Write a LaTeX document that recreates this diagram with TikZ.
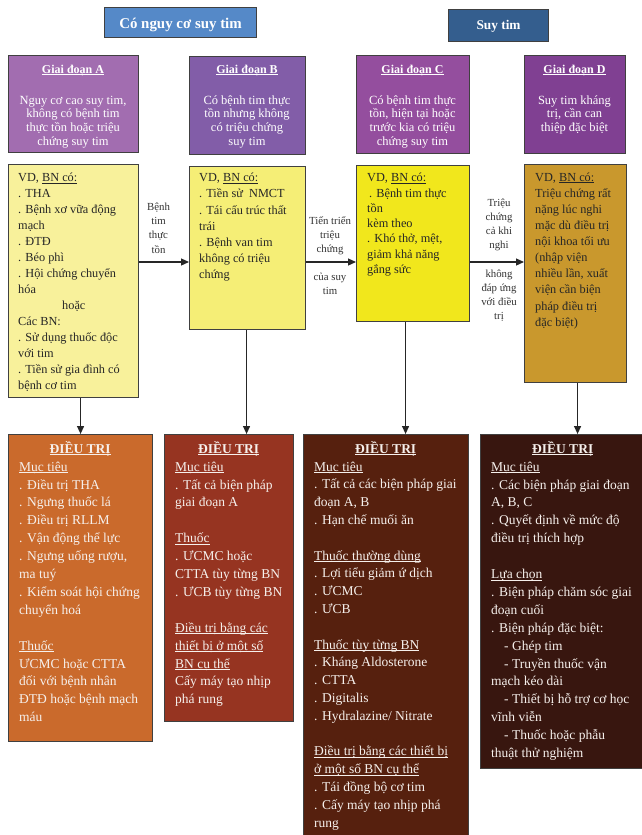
\documentclass[tikz,border=0pt]{standalone}
\usepackage{fontspec}
\setmainfont{Liberation Serif}
\usetikzlibrary{arrows.meta}
\definecolor{topA}{HTML}{5589C8}
\definecolor{topB}{HTML}{345E8E}
\definecolor{stA}{HTML}{A26DB0}
\definecolor{stB}{HTML}{825DA8}
\definecolor{stC}{HTML}{944E9E}
\definecolor{stD}{HTML}{804092}
\definecolor{vdA}{HTML}{F8F19B}
\definecolor{vdB}{HTML}{F5EE76}
\definecolor{vdC}{HTML}{F1E71C}
\definecolor{vdD}{HTML}{C9982D}
\definecolor{trA}{HTML}{CA6A2C}
\definecolor{trB}{HTML}{963421}
\definecolor{trC}{HTML}{56200E}
\definecolor{trD}{HTML}{38160F}
\definecolor{wtxt}{HTML}{F6F0EC}
\newcommand\ulx[1]{\setbox0=\hbox{#1}\rlap{\rule[-1.7pt]{\wd0}{0.65pt}}\box0}
\newcommand\fs{\vrule height 14pt depth 0pt width 0pt}
\begin{document}
\begin{tikzpicture}[x=1pt,y=-1pt,
  box/.style={draw=black!75, line width=1.1pt, inner sep=0pt, anchor=north west},
  arr/.style={line width=1.2pt, draw=black!85, -{Triangle[length=8pt,width=7pt]}},
  vdtxt/.style={anchor=north west, inner sep=0pt, align=left, text=black!85, font=\fontsize{12.3}{16}\selectfont},
  trtxt/.style={anchor=north west, inner sep=0pt, align=left, text=wtxt, font=\fontsize{13.5}{17.9}\selectfont},
  sttitle/.style={anchor=base, inner sep=0pt, text=white, font=\bfseries\fontsize{12}{14}\selectfont},
  stbody/.style={anchor=north, inner sep=0pt, align=center, text=white, font=\fontsize{12.5}{13.6}\selectfont},
  lbl/.style={anchor=north, inner sep=0pt, align=center, text=black!80, font=\fontsize{10.8}{14.3}\selectfont}
]
\useasboundingbox (0,0) rectangle (641,835);
\fill[white] (0,0) rectangle (641,835);

% top headers
\node[box, fill=topA, minimum width=152pt, minimum height=30pt, text height=14pt, text depth=3pt, text=white, font=\bfseries\fontsize{14.9}{16}\selectfont] (risk) at (104,7) {Có nguy cơ suy tim};
\node[box, fill=topB, minimum width=100pt, minimum height=32pt, text height=10pt, text depth=3pt, text=white, font=\bfseries\fontsize{13.3}{15}\selectfont] (hf) at (448,9) {Suy tim};

% stage boxes
\node[box, fill=stA, minimum width=130pt, minimum height=97pt] (stageA) at (8,55) {};
\node[box, fill=stB, minimum width=116pt, minimum height=98pt] (stageB) at (189,56) {};
\node[box, fill=stC, minimum width=113pt, minimum height=98pt] (stageC) at (356,55) {};
\node[box, fill=stD, minimum width=101pt, minimum height=98pt] (stageD) at (524,55) {};
\node[sttitle] (tA) at (73,73) {\ulx{Giai đoạn A}};
\node[sttitle] (tB) at (247,73) {\ulx{Giai đoạn B}};
\node[sttitle] (tC) at (412.5,73) {\ulx{Giai đoạn C}};
\node[sttitle] (tD) at (574.5,73) {\ulx{Giai đoạn D}};
\node[stbody] (bA) at (73,90) {\fs Nguy cơ cao suy tim,\\không có bệnh tim\\thực tồn hoặc triệu\\chứng suy tim};
\node[stbody] (bB) at (247,90) {\fs Có bệnh tim thực\\tồn nhưng không\\có triệu chứng\\suy tim};
\node[stbody] (bC) at (412.5,90) {\fs Có bệnh tim thực\\tồn, hiện tại hoặc\\trước kia có triệu\\chứng suy tim};
\node[stbody] (bD) at (574.5,90) {\fs Suy tim kháng\\trị, cần can\\thiệp đặc biệt};

% VD boxes
\node[box, fill=vdA, minimum width=130pt, minimum height=233pt] (vdA) at (8,164) {};
\node[box, fill=vdB, minimum width=116pt, minimum height=163pt] (vdB) at (189,166) {};
\node[box, fill=vdC, minimum width=113pt, minimum height=156pt] (vdC) at (356,165) {};
\node[box, fill=vdD, minimum width=102pt, minimum height=218pt] (vdD) at (524,164) {};
\node[vdtxt] (vtA) at (18,167.5) {\fs VD, \ulx{BN có:}\\
. THA\\
. Bệnh xơ vữa động\\
mạch\\
. ĐTĐ\\
. Béo phì\\
. Hội chứng chuyển\\
hóa\\
\hspace*{44pt}hoặc\\
Các BN:\\
. Sử dụng thuốc độc\\
với tim\\
. Tiền sử gia đình có\\
bệnh cơ tim};
\node[vdtxt, font=\fontsize{12.3}{16.2}\selectfont] (vtB) at (199,167.5) {\fs VD, \ulx{BN có:}\\
. Tiền sử~ NMCT\\
. Tái cấu trúc thất\\
trái\\
. Bệnh van tim\\
không có triệu\\
chứng};
\node[vdtxt, font=\fontsize{12.3}{15.3}\selectfont] (vtC) at (367,167.5) {\fs VD, \ulx{BN có:}\\
\hspace*{2pt}. Bệnh tim thực\\
tồn\\
kèm theo\\
. Khó thở, mệt,\\
giảm khả năng\\
gắng sức};
\node[vdtxt, font=\fontsize{12.3}{16.1}\selectfont] (vtD) at (535,167) {\fs VD, \ulx{BN có:}\\
Triệu chứng rất\\
nặng lúc nghi\\
mặc dù điều trị\\
nội khoa tối ưu\\
(nhập viện\\
nhiều lần, xuất\\
viện cần biện\\
pháp điều trị\\
đặc biệt)};

% treatment boxes
\node[box, fill=trA, minimum width=144pt, minimum height=307pt] (trA) at (8,434) {};
\node[box, fill=trB, minimum width=129pt, minimum height=287pt] (trB) at (164,434) {};
\node[box, fill=trC, minimum width=165pt, minimum height=404pt] (trC) at (303,434) {};
\node[box, fill=trD, minimum width=163pt, minimum height=334pt] (trD) at (480,434) {};

\node[trtxt] (ttA) at (19,439) {\fs\makebox[122pt][c]{\bfseries\ulx{ĐIỀU TRỊ}}\\
\ulx{Mục tiêu}\\
. Điều trị THA\\
. Ngưng thuốc lá\\
. Điều trị RLLM\\
. Vận động thể lực\\
. Ngưng uống rượu,\\
ma tuý\\
. Kiểm soát hội chứng\\
chuyển hoá\\
~\\
\ulx{Thuốc}\\
ƯCMC hoặc CTTA\\
đối với bệnh nhân\\
ĐTĐ hoặc bệnh mạch\\
máu};
\node[trtxt] (ttB) at (175,439) {\fs\makebox[107pt][c]{\bfseries\ulx{ĐIỀU TRỊ}}\\
\ulx{Mục tiêu}\\
. Tất cả biện pháp\\
giai đoạn A\\
~\\
\ulx{Thuốc}\\
. ƯCMC hoặc\\
CTTA tùy từng BN\\
. ƯCB tùy từng BN\\
~\\
\ulx{Điều trị bằng các}\\
\ulx{thiết bị ở một số}\\
\ulx{BN cụ thể}\\
Cấy máy tạo nhịp\\
phá rung};
\node[trtxt, font=\fontsize{13.5}{17.8}\selectfont] (ttC) at (314,439) {\fs\makebox[143pt][c]{\bfseries\ulx{ĐIỀU TRỊ}}\\
\ulx{Mục tiêu}\\
. Tất cả các biện pháp giai\\
đoạn A, B\\
. Hạn chế muối ăn\\
~\\
\ulx{Thuốc thường dùng}\\
. Lợi tiểu giảm ứ dịch\\
. ƯCMC\\
. ƯCB\\
~\\
\ulx{Thuốc tùy từng BN}\\
. Kháng Aldosterone\\
. CTTA\\
. Digitalis\\
. Hydralazine/ Nitrate\\
~\\
\ulx{Điều trị bằng các thiết bị}\\
\ulx{ở một số BN cụ thể}\\
. Tái đồng bộ cơ tim\\
. Cấy máy tạo nhịp phá\\
rung};
\node[trtxt] (ttD) at (491,439) {\fs\makebox[143pt][c]{\bfseries\ulx{ĐIỀU TRỊ}}\\
\ulx{Mục tiêu}\\
. Các biện pháp giai đoạn\\
A, B, C\\
. Quyết định về mức độ\\
điều trị thích hợp\\
~\\
\ulx{Lựa chọn}\\
. Biện pháp chăm sóc giai\\
đoạn cuối\\
. Biện pháp đặc biệt:\\
\hspace*{13pt}- Ghép tim\\
\hspace*{13pt}- Truyền thuốc vận\\
mạch kéo dài\\
\hspace*{13pt}- Thiết bị hỗ trợ cơ học\\
vĩnh viễn\\
\hspace*{13pt}- Thuốc hoặc phẫu\\
thuật thử nghiệm};

% connector labels
\node[lbl] (l1) at (158.5,196) {\fs Bệnh\\tim\\thực\\tồn};
\node[lbl, font=\fontsize{10.8}{14.2}\selectfont] (l2) at (330,210) {\fs Tiến triển\\triệu\\chứng};
\node[lbl, font=\fontsize{10.8}{14}\selectfont] (l3) at (330,266.5) {\fs của suy\\tim};
\node[lbl, font=\fontsize{10.8}{14.2}\selectfont] (l4) at (499,192) {\fs Triệu\\chứng\\cả khi\\nghi};
\node[lbl, font=\fontsize{10.8}{14.2}\selectfont] (l5) at (499,263) {\fs không\\đáp ứng\\với điều\\trị};

% connectors
\coordinate (hy) at (0,262);
\draw[arr] (vdA.east |- hy) -- (vdB.west |- hy);
\draw[arr] (vdB.east |- hy) -- (vdC.west |- hy);
\draw[arr] (vdC.east |- hy) -- (vdD.west |- hy);
\draw[arr] (vdA.south -| trA.north) -- (trA.north);
\draw[arr] ([xshift=-1pt]vdB.south) -- ([xshift=-1pt]vdB.south |- trB.north);
\draw[arr] ([xshift=-7.5pt]vdC.south) -- ([xshift=-7.5pt]vdC.south |- trC.north);
\draw[arr] ([xshift=2pt]vdD.south) -- ([xshift=2pt]vdD.south |- trD.north);
\end{tikzpicture}
\end{document}
